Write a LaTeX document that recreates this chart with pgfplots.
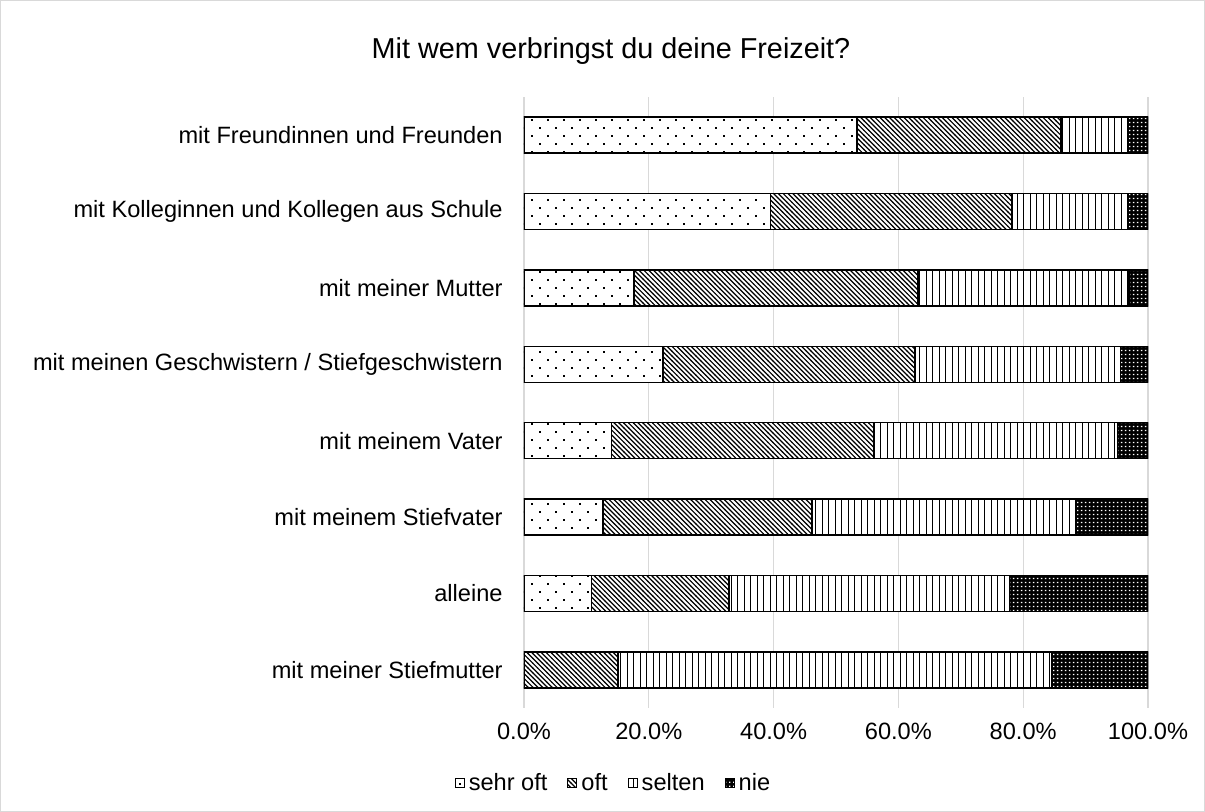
\documentclass[border=0pt]{standalone}
\usepackage{pgfplots}
\pgfplotsset{compat=1.18}
\usepackage{pgfplotstable}
\usepackage{fontspec}
\setmainfont{Liberation Sans}
\usetikzlibrary{patterns}
\definecolor{gridgray}{HTML}{D9D9D9}
\definecolor{bordergray}{HTML}{D9D9D9}

\pgfdeclarepatternformonly{sparsedots}{\pgfqpoint{-0.5pt}{-0.5pt}}{\pgfqpoint{8.5pt}{8.5pt}}{\pgfqpoint{8pt}{8pt}}{%
  \pgfpathrectangle{\pgfqpoint{1.6pt}{1.6pt}}{\pgfqpoint{0.8pt}{0.8pt}}%
  \pgfpathrectangle{\pgfqpoint{5.6pt}{5.6pt}}{\pgfqpoint{0.8pt}{0.8pt}}%
  \pgfusepath{fill}}
\pgfdeclarepatternformonly{densenw}{\pgfqpoint{-1pt}{-1pt}}{\pgfqpoint{3.4pt}{3.4pt}}{\pgfqpoint{2.4pt}{2.4pt}}{%
  \pgfsetlinewidth{0.6pt}%
  \pgfpathmoveto{\pgfqpoint{-0.1pt}{2.5pt}}\pgfpathlineto{\pgfqpoint{2.5pt}{-0.1pt}}%
  \pgfusepath{stroke}}
\pgfdeclarepatternformonly{vlines}{\pgfqpoint{0pt}{-0.5pt}}{\pgfqpoint{3.25pt}{3.75pt}}{\pgfqpoint{3.25pt}{3.25pt}}{%
  \pgfsetlinewidth{0.5pt}%
  \pgfpathmoveto{\pgfqpoint{1.6pt}{-0.5pt}}\pgfpathlineto{\pgfqpoint{1.6pt}{3.75pt}}%
  \pgfusepath{stroke}}
\pgfdeclarepatternformonly{whitedots}{\pgfqpoint{0pt}{0pt}}{\pgfqpoint{2pt}{2pt}}{\pgfqpoint{2pt}{2pt}}{%
  \pgfpathrectangle{\pgfqpoint{0.6pt}{0.6pt}}{\pgfqpoint{0.8pt}{0.8pt}}%
  \pgfusepath{fill}}

\pgfplotstableread{
cat sehroft oft selten nie
0 53.4 32.7 10.7 3.2
1 39.5 38.7 18.7 3.1
2 17.6 45.5 33.9 3.0
3 22.3 40.4 32.9 4.4
4 14.0 42.1 39.0 4.9
5 12.7 33.5 42.3 11.5
6 10.8 22.1 44.9 22.2
7 0.0 15.1 69.5 15.4
}\datatable

\newcommand{\lblfont}{\fontsize{11.8}{14}\selectfont}

\begin{document}
\begin{tikzpicture}
\draw[bordergray, line width=0.6pt] (0.3pt,0.3pt) rectangle (602.2pt,405.7pt);
\node[font=\fontsize{14.4}{17}\selectfont] at (305.5pt,380.5pt) {Mit wem verbringst du deine Freizeit?};
\begin{axis}[
  at={(262pt,52pt)}, anchor=south west,
  scale only axis,
  width=312pt, height=305.5pt,
  xbar stacked,
  bar width=18pt,
  xmin=0, xmax=100,
  ymin=-0.5, ymax=7.5,
  y dir=reverse,
  axis line style={draw=none},
  xmajorgrids,
  grid style={gridgray, line width=0.6pt},
  major tick length=0pt,
  xtick={0,20,40,60,80,100},
  xticklabels={0.0\%,20.0\%,40.0\%,60.0\%,80.0\%,100.0\%},
  ytick={0,...,7},
  yticklabels={mit Freundinnen und Freunden, mit Kolleginnen und Kollegen aus Schule, mit meiner Mutter, mit meinen Geschwistern / Stiefgeschwistern, mit meinem Vater, mit meinem Stiefvater, alleine, mit meiner Stiefmutter},
  yticklabel style={font=\lblfont, inner sep=0pt, anchor=east, xshift=-10.5pt},
  xticklabel style={font=\lblfont, inner sep=0pt, anchor=north, yshift=-7.5pt},
  legend style={at={(0.145,-0.123)}, anchor=center, draw=none, font=\lblfont, legend columns=-1, inner sep=0pt,
    /tikz/every even column/.append style={column sep=8pt}},
  legend cell align=left,
  legend image code/.code={\draw[#1, line width=0.5pt] (0pt,-2.25pt) rectangle (4.5pt,2.25pt);},
]
\addplot[draw=black, line width=0.8pt, fill=white, postaction={pattern=sparsedots, pattern color=black}] table[x=sehroft, y=cat] {\datatable};
\addplot[draw=black, line width=0.8pt, fill=white, postaction={pattern=densenw, pattern color=black}] table[x=oft, y=cat] {\datatable};
\addplot[draw=black, line width=0.8pt, fill=white, postaction={pattern=vlines, pattern color=black}] table[x=selten, y=cat] {\datatable};
\addplot[draw=black, line width=0.8pt, fill=black, postaction={pattern=whitedots, pattern color=white}] table[x=nie, y=cat] {\datatable};
\legend{sehr oft, oft, selten, nie}
\end{axis}
\end{tikzpicture}
\end{document}
